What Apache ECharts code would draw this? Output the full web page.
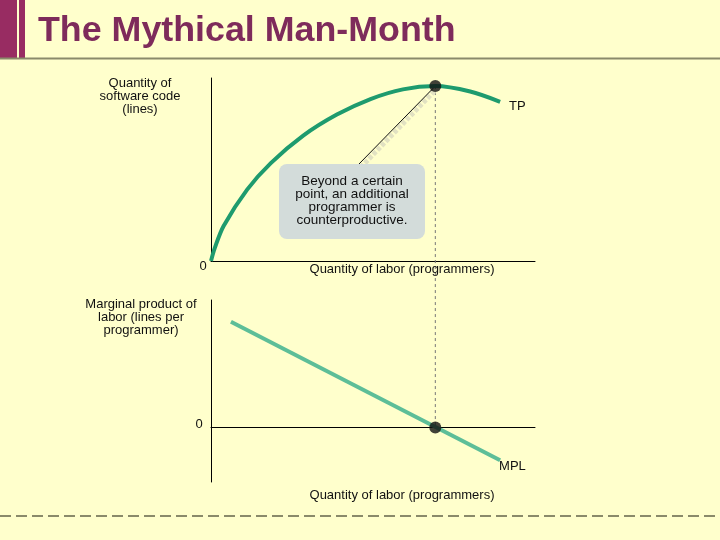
<!DOCTYPE html>
<html>
<head>
<meta charset="utf-8">
<script src="https://cdn.jsdelivr.net/npm/echarts@6/dist/echarts.min.js"></script>
<style>
  html, body { margin: 0; padding: 0; background: #FFFFCC; }
  #main { width: 720px; height: 540px; }
</style>
</head>
<body>
<div id="main"></div>
<script>
// TP curve (labor -> lines of code)
var tpX = [0, 0.15, 0.5, 1.45, 2.4, 3.7, 5.05, 6.4, 7.7, 9, 10.4, 11.6];
var tpY = [0, 7, 19, 39, 53.5, 68.5, 80, 88.5, 93.8, 95.6, 92.6, 87];
// MPL straight line, start and end
var mplX = [0.8, 11.6];
var mplY = [58, -18];
// the point where TP peaks / MPL crosses zero
var peakX = 9, peakY = 95.6;

var font = '"Liberation Sans", Arial, sans-serif';
var txt = '#111';

var dom = document.getElementById("main");
var myChart = echarts.init(dom);

var tpData = tpX.map(function (x, i) { return [x, tpY[i]]; });
var mplData = mplX.map(function (x, i) { return [x, mplY[i]]; });

function axisBase(extra) {
    var a = {
        type: 'value',
        axisLine: { show: true, onZero: true, lineStyle: { color: '#000', width: 1 } },
        axisTick: { show: false },
        axisLabel: { show: false },
        splitLine: { show: false }
    };
    for (var k in extra) a[k] = extra[k];
    return a;
}

option = {
    backgroundColor: '#FFFFCC',
    animation: false,
    grid: [
        { left: 211, top: 78, width: 324, height: 183, outerBoundsMode: 'none' },
        { left: 211, top: 300, width: 324, height: 182, outerBoundsMode: 'none' }
    ],
    xAxis: [
        axisBase({ gridIndex: 0, min: 0, max: 13 }),
        axisBase({ gridIndex: 1, min: 0, max: 13 })
    ],
    yAxis: [
        axisBase({ gridIndex: 0, min: 0, max: 100 }),
        axisBase({ gridIndex: 1, min: -30, max: 70 })
    ],
    series: [
        {
            type: 'line', xAxisIndex: 0, yAxisIndex: 0,
            data: tpData, smooth: 0.3, symbol: 'none',
            lineStyle: { color: '#1E9B6E', width: 4 },
            endLabel: { show: true, formatter: 'TP', color: txt, fontSize: 13, fontFamily: font, offset: [1, 5] },
            z: 3
        },
        {
            type: 'scatter', xAxisIndex: 0, yAxisIndex: 0,
            data: [[peakX, peakY]], symbolSize: 12,
            itemStyle: { color: '#111' }, z: 5
        },
        {
            type: 'line', xAxisIndex: 1, yAxisIndex: 1,
            data: mplData, symbol: 'none',
            lineStyle: { color: '#5DBE98', width: 4 },
            endLabel: { show: true, formatter: 'MPL', color: txt, fontSize: 13, fontFamily: font, offset: [-9, 6] },
            z: 3
        },
        {
            type: 'scatter', xAxisIndex: 1, yAxisIndex: 1,
            data: [[peakX, 0]], symbolSize: 12,
            itemStyle: { color: '#111' }, z: 5
        }
    ]
};
myChart.setOption(option, true);

// positions from the chart's own scales
var pPeak = myChart.convertToPixel({ seriesIndex: 1 }, [peakX, peakY]);
var pZero = myChart.convertToPixel({ seriesIndex: 3 }, [peakX, 0]);

function label(x, y, text, align, size) {
    return {
        type: 'text', x: x, y: y, z: 10,
        style: {
            text: text, fill: txt, font: (size || 13) + 'px ' + font,
            align: align || 'center', verticalAlign: 'middle', lineHeight: 13
        }
    };
}

var graphics = [
    // header
    { type: 'rect', shape: { x: 0, y: 0, width: 17, height: 58 }, style: { fill: '#982C62' } },
    { type: 'rect', shape: { x: 19, y: 0, width: 6, height: 58 }, style: { fill: '#982C62' } },
    { type: 'line', shape: { x1: 0, y1: 58.5, x2: 720, y2: 58.5 }, style: { stroke: '#8A8A6A', lineWidth: 2 } },
    {
        type: 'text', x: 38, y: 31,
        style: { text: 'The Mythical Man-Month', fill: '#7E2B5B', font: 'bold 35.8px ' + font, verticalAlign: 'middle' }
    },
    // bottom dashed rule
    { type: 'line', shape: { x1: 0, y1: 516, x2: 720, y2: 516 }, style: { stroke: '#8A8A6A', lineWidth: 2, lineDash: [11, 5] } },
    // vertical guide from TP peak to MPL zero
    {
        type: 'line', shape: { x1: pPeak[0], y1: pPeak[1], x2: pZero[0], y2: pZero[1] },
        style: { stroke: '#777', lineWidth: 1, lineDash: [3, 3] }, z: 1
    },
    // pointer from callout to peak
    {
        type: 'line', shape: { x1: pPeak[0] - 1, y1: pPeak[1] + 5, x2: 362, y2: 166 },
        style: { stroke: '#E2E2C2', lineWidth: 5, lineDash: [4, 2] }, z: 1
    },
    {
        type: 'line', shape: { x1: pPeak[0], y1: pPeak[1], x2: 359, y2: 164 },
        style: { stroke: '#111', lineWidth: 1 }, z: 2
    },
    // callout box
    {
        type: 'rect', shape: { x: 279, y: 164, width: 146, height: 75, r: 8 },
        style: { fill: '#D3DCDA' }, z: 3
    },
    label(352, 200.5, 'Beyond a certain\npoint, an additional\nprogrammer is\ncounterproductive.', 'center', 13.5),
    // axis texts, top panel
    label(140, 96, 'Quantity of\nsoftware code\n(lines)'),
    label(203, 266, '0'),
    label(402, 269, 'Quantity of labor (programmers)'),
    // axis texts, bottom panel
    label(141, 317, 'Marginal product of\nlabor (lines per\nprogrammer)'),
    label(199, 424, '0'),
    label(402, 495, 'Quantity of labor (programmers)')
];
myChart.setOption({ graphic: graphics });
</script>
</body>
</html>
